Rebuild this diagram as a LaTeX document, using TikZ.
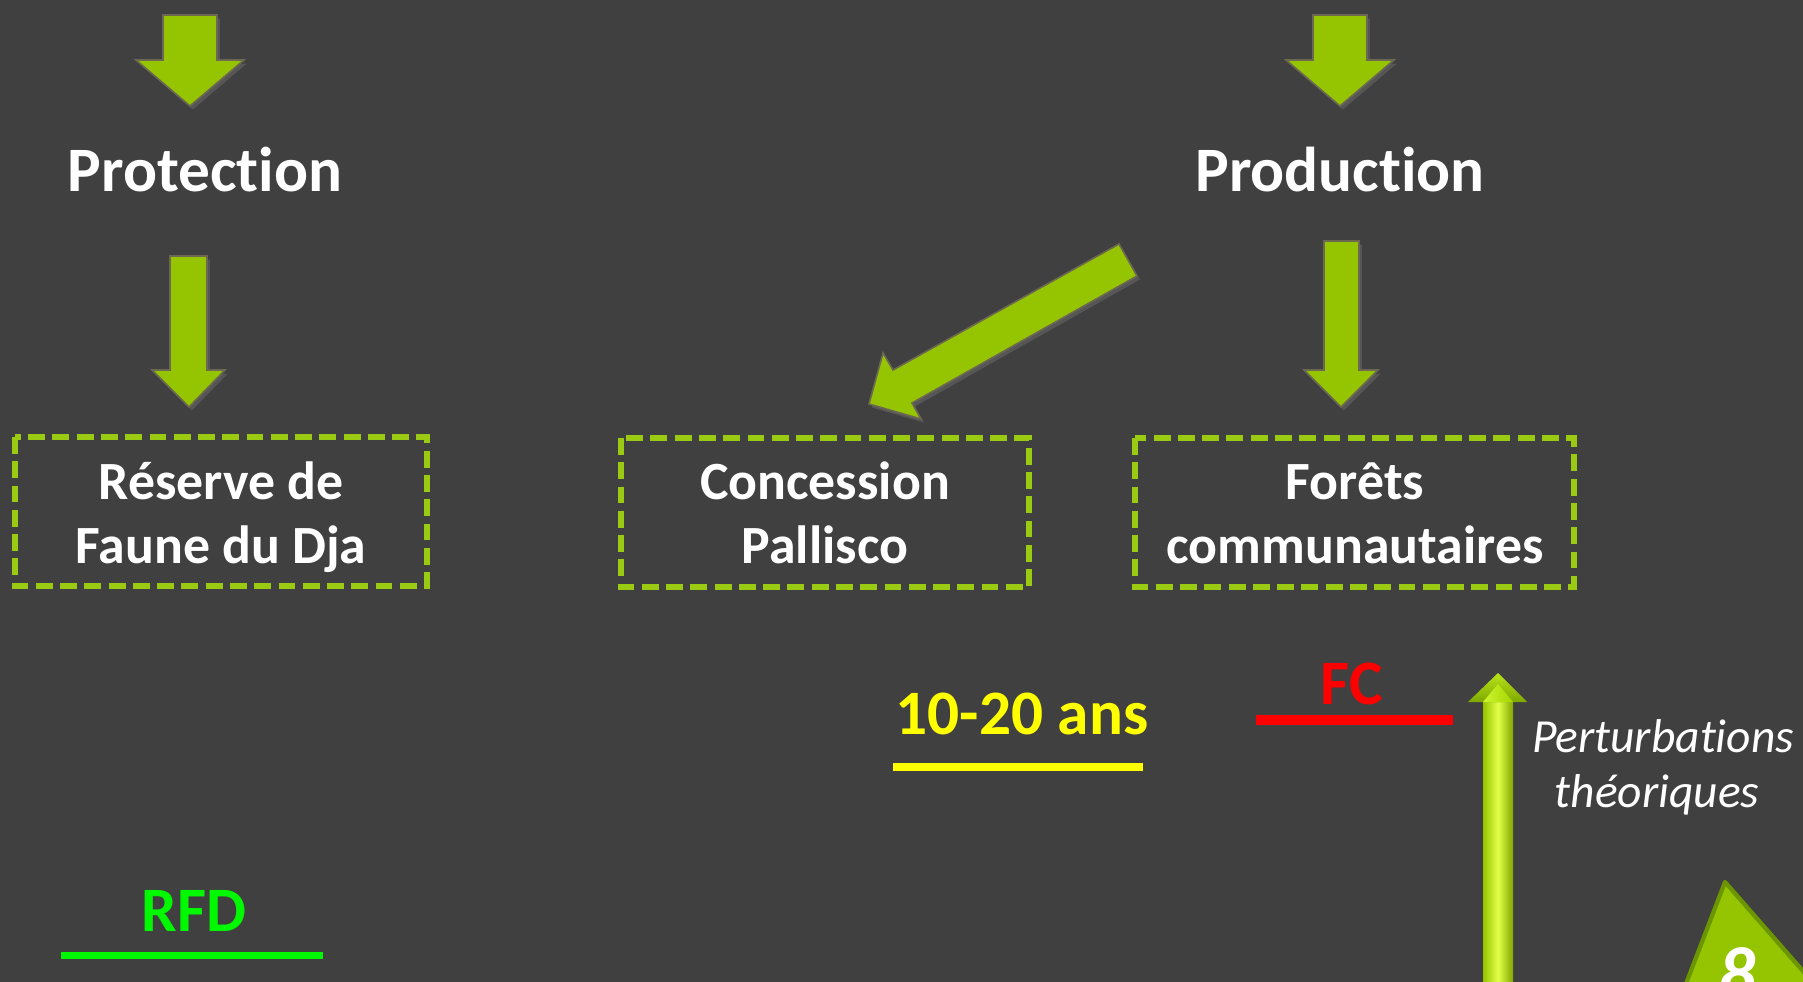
\documentclass[tikz,border=0pt]{standalone}
\usepackage{fontspec}
\setmainfont{Carlito}[Ligatures={NoCommon,TeX}]
\usetikzlibrary{shadows}
\definecolor{bg}{HTML}{404040}
\definecolor{leaf}{HTML}{95C400}
\definecolor{dashgreen}{HTML}{9ACA12}
\definecolor{edge}{HTML}{6C6852}
\definecolor{rfdgreen}{HTML}{00F800}
\definecolor{fcred}{HTML}{FF0000}
\definecolor{yel}{HTML}{FFFF00}
\definecolor{trigreen}{HTML}{95C400}
\definecolor{triedge}{HTML}{6C9600}
\definecolor{upleft}{HTML}{95C400}
\definecolor{upright}{HTML}{7FA800}
\definecolor{upmid}{HTML}{E2FF48}
\definecolor{uphead}{HTML}{B8E41A}
\definecolor{upheadin}{HTML}{CDF530}
\definecolor{upheadin2}{HTML}{A6D600}
\tikzset{
  blockarrow/.style={fill=leaf, draw=edge, line width=0.45pt, line join=miter,
    drop shadow={opacity=0.35, shadow xshift=0.8pt, shadow yshift=-1.0pt}},
  heading/.style={text=white, font=\bfseries\fontsize{18}{21}\selectfont, inner sep=0pt},
  boxtext/.style={text=white, font=\bfseries\fontsize{15.3}{18.2}\selectfont, align=center, inner sep=0pt},
  dashbox/.style={draw=dashgreen, line width=1.6pt, dash pattern=on 4.8pt off 2.1pt},
  legendtext/.style={font=\bfseries\fontsize{18}{21}\selectfont, inner sep=0pt},
  italtext/.style={text=white, font=\itshape\fontsize{13.5}{16}\selectfont, inner sep=0pt},
}
\begin{document}
\begin{tikzpicture}[x=0.01cm, y=-0.01cm]
\useasboundingbox (0,0) rectangle (1803,982);
\fill[bg] (0,0) rectangle (1803,982);

% top arrows
\draw[blockarrow] (163,15) -- (217,15) -- (217,60) -- (244,60) -- (190,106) -- (136,60) -- (163,60) -- cycle;
\draw[blockarrow] (1313,15) -- (1367,15) -- (1367,60) -- (1394,60) -- (1340,106) -- (1286,60) -- (1313,60) -- cycle;

% headings
\node[heading] (prot) at (205,170) {Protection};
\node[heading] (prod) at (1340,170) {Production};

% second-row arrows
\draw[blockarrow] (170,256) -- (207,256) -- (207,370) -- (225,370) -- (189,407) -- (152,370) -- (170,370) -- cycle;
\draw[blockarrow] (1324,241) -- (1359,241) -- (1359,370) -- (1378,370) -- (1341,407) -- (1304,370) -- (1324,370) -- cycle;
\draw[blockarrow] (1119,244) -- (893,370) -- (883,353) -- (869,404) -- (921,419) -- (912,403) -- (1137,276) -- cycle;

% dashed boxes
\draw[dashbox] (15,437) rectangle (427,586);
\draw[dashbox] (621,438) rectangle (1029,587);
\draw[dashbox] (1135,438) rectangle (1574,587);
\node[boxtext] (rdf) at (221,517) {Réserve de\\Faune du Dja};
\node[boxtext] (pal) at (825,513) {Concession\\Pallisco};
\node[boxtext] (fc) at (1355,513) {Forêts\\communautaires};

% legend items
\node[legendtext, text=yel] (ans) at (1022,714) {10-20 ans};
\draw[yel, line width=2.2pt] (893,767) -- (1143,767);
\node[legendtext, text=fcred] (fclab) at (1352,684) {FC};
\draw[fcred, line width=2.6pt] (1256,720) -- (1453,720);
\node[legendtext, text=rfdgreen] (rfd) at (194,911) {RFD};
\draw[rfdgreen, line width=2pt] (61,955.5) -- (323,955.5);

% upward shaded arrow
\shade[left color=upleft, right color=upright, middle color=upmid] (1483,702) rectangle (1513,990);
\shade[top color=uphead, bottom color=upright] (1468,702) -- (1498,673) -- (1527,702) -- cycle;
\shade[left color=upheadin, right color=upheadin2] (1483,702) -- (1498,684) -- (1513,702) -- cycle;

% italic label
\node[italtext] (pert) at (1663,736) {Perturbations};
\node[italtext] (theo) at (1657,795) {théoriques};

% page number triangle
\begin{scope}
\clip (0,0) rectangle (1803,982);
\draw[fill=trigreen, draw=triedge, line width=1.2pt, line join=round] (1725,882) -- (1830,1002) -- (1679,1002) -- cycle;
\node[text=white, font=\bfseries\itshape\fontsize{21}{24}\selectfont, anchor=base, inner sep=0pt] (pg) at (1737,998) {8};
\end{scope}
\end{tikzpicture}
\end{document}
